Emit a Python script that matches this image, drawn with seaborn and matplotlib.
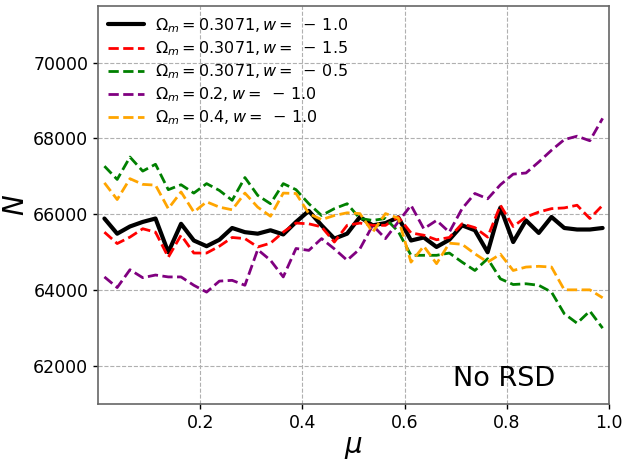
import numpy as np
import pandas as pd
import seaborn as sns
import matplotlib
matplotlib.use("Agg")
import matplotlib.pyplot as plt

mu = [0.0125 + 0.025 * k for k in range(40)]

n_fid = [65890, 65490, 65680, 65800, 65890, 65000, 65750, 65310, 65160, 65330,
         65640, 65530, 65490, 65580, 65470, 65800, 66090, 65710, 65360, 65490,
         65930, 65710, 65770, 65920, 65310, 65390, 65140, 65330, 65710, 65580,
         65000, 66180, 65270, 65840, 65510, 65930, 65640, 65600, 65600, 65640]
n_w15 = [65530, 65230, 65400, 65620, 65530, 64870, 65450, 64980, 64980, 65160,
         65390, 65360, 65140, 65240, 65530, 65770, 65750, 65670, 65270, 65710,
         65770, 65710, 65710, 65930, 65510, 65450, 65330, 65390, 65750, 65650,
         65400, 66240, 65680, 65930, 66060, 66150, 66170, 66240, 65890, 66240]
n_w05 = [67270, 66920, 67510, 67140, 67320, 66650, 66780, 66560, 66810, 66630,
         66370, 66970, 66500, 66280, 66810, 66650, 66280, 65970, 66150, 66280,
         65890, 65840, 65890, 65550, 64920, 64920, 64920, 64980, 64740, 64520,
         64830, 64300, 64150, 64170, 64130, 63950, 63380, 63130, 63450, 63000]
n_om02 = [64350, 64070, 64540, 64330, 64400, 64350, 64350, 64130, 63950, 64240,
          64260, 64130, 65070, 64790, 64350, 65100, 65050, 65360, 65090, 64790,
          65090, 65710, 65360, 65800, 66240, 65620, 65840, 65530, 66150, 66550,
          66410, 66780, 67060, 67090, 67380, 67690, 67970, 68060, 67940, 68530]
n_om04 = [66830, 66390, 66940, 66790, 66770, 66150, 66590, 66060, 66330, 66190,
          66120, 66560, 66190, 65950, 66560, 66550, 66020, 65860, 65970, 66040,
          66020, 65530, 66020, 65900, 64740, 65160, 64700, 65240, 65210, 64960,
          64740, 64950, 64520, 64610, 64630, 64610, 64010, 64010, 64010, 63800]

labels = [r'$\Omega_m = 0.3071, w =\;-\,1.0$',
          r'$\Omega_m = 0.3071, w =\;-\,1.5$',
          r'$\Omega_m = 0.3071, w =\;-\,0.5$',
          r'$\Omega_m = 0.2, w =\;-\,1.0$',
          r'$\Omega_m = 0.4, w =\;-\,1.0$']
series = [n_fid, n_w15, n_w05, n_om02, n_om04]
colors = ['black', 'red', 'green', 'purple', 'orange']
styles = ['-', '--', '--', '--', '--']
widths = [3, 2, 2, 2, 2]

sns.set_style("white")
plt.rcParams['text.color'] = 'black'
plt.rcParams['axes.labelcolor'] = 'black'
plt.rcParams['xtick.color'] = 'black'
plt.rcParams['ytick.color'] = 'black'

fig = plt.figure(figsize=(6.22, 4.63), dpi=100)
ax = fig.add_axes([0.1576, 0.1274, 0.8215, 0.8603])

for vals, lab, c, ls, lw in zip(series, labels, colors, styles, widths):
    df = pd.DataFrame({"mu": mu, "N": vals})
    sns.lineplot(data=df, x="mu", y="N", ax=ax, color=c, linestyle=ls,
                 linewidth=lw, label=lab)

ax.set_xlim(0, 1)
ax.set_ylim(61000, 71500)
ax.set_xticks([0.2, 0.4, 0.6, 0.8, 1.0])
ax.set_yticks([62000, 64000, 66000, 68000, 70000])
ax.grid(True, linestyle='--', color='#b0b0b0', linewidth=0.8)
ax.tick_params(axis='both', labelsize=12.5, direction='out', length=3.5,
               width=1, colors='black', left=True, bottom=True)
for s in ax.spines.values():
    s.set_color('#666666')
    s.set_linewidth(1.2)
ax.set_xlabel(r'$\mu$', fontsize=20, labelpad=1)
ax.set_ylabel(r'$N$', fontsize=20, labelpad=2)
ax.text(0.894, 0.03, 'No RSD', transform=ax.transAxes, fontsize=19.5,
        ha='right', va='bottom')
leg = ax.legend(loc='upper left', frameon=False, fontsize=11.5,
                handlelength=2.2, handletextpad=0.7, borderaxespad=0.25,
                labelspacing=0.28)

fig.savefig("out.png", dpi=100)
